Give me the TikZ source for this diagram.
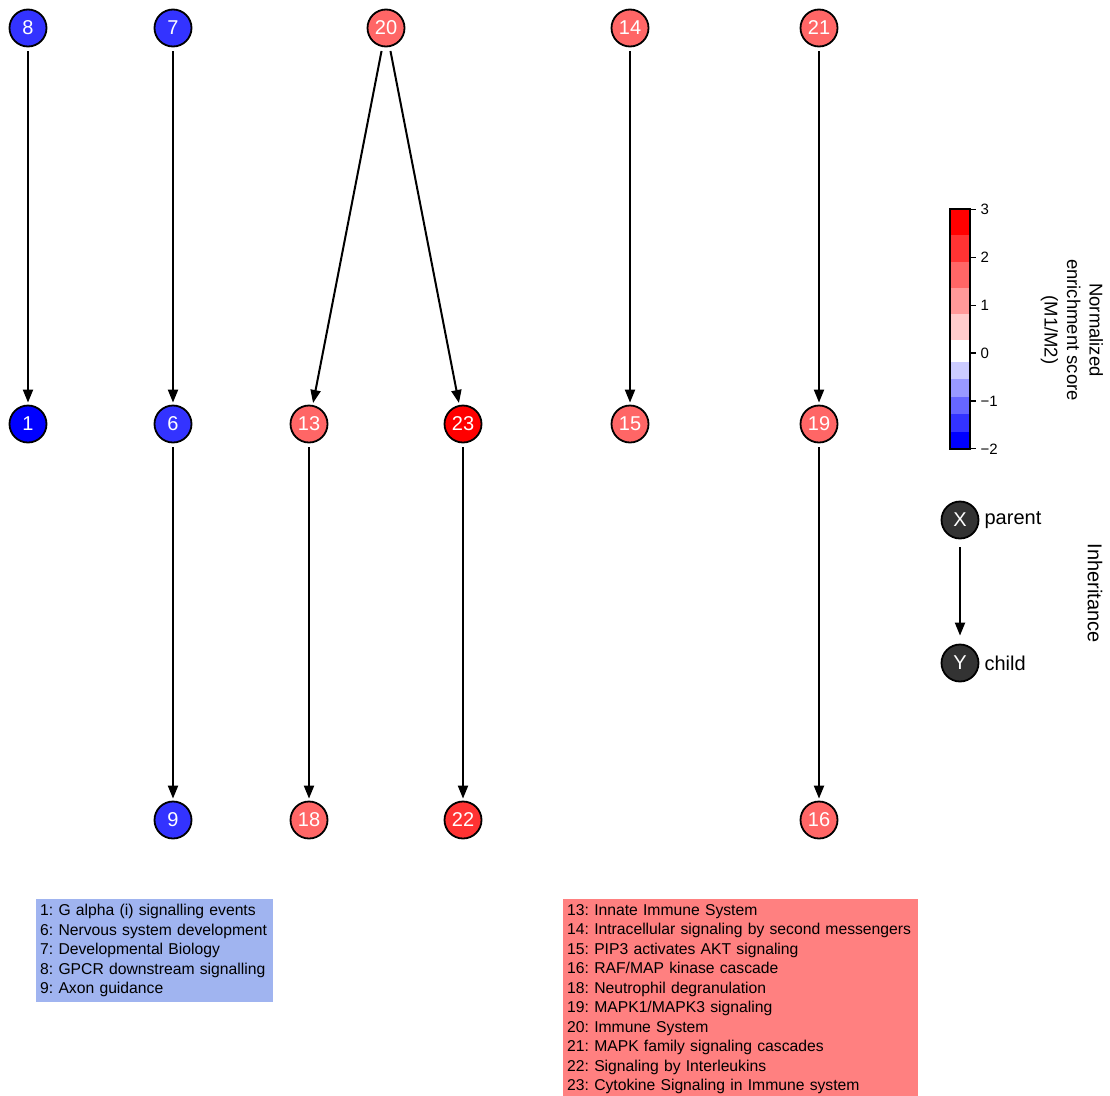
\documentclass[tikz,border=0pt]{standalone}
\usepackage{fontspec}
\setmainfont{Liberation Sans}
\usetikzlibrary{arrows.meta}
\frenchspacing

\begin{document}
\begin{tikzpicture}
[x=1pt,y=-1pt, % pixel coordinates
pw/.style={circle,draw,line width=1.8pt,minimum size=37pt,inner sep=0pt,text=white,font=\fontsize{20}{20}\selectfont}, % node
inh/.style={line width=2pt,-{Triangle[length=13pt,width=10pt]},shorten <=4pt,shorten >=2pt}, % arrow
listbox/.style={anchor=north west,align=left,inner xsep=4pt,inner ysep=5pt,font=\fontsize{15.7}{19.5}\selectfont} % list
]
\useasboundingbox (0,0) rectangle (1110,1095);
% top row
\node[pw,fill=blue!80!white] (n8) at (28,28) {8};
\node[pw,fill=blue!80!white] (n7) at (173,28) {7};
\node[pw,fill=red!60!white] (n20) at (386,28) {20};
\node[pw,fill=red!60!white] (n14) at (630,28) {14};
\node[pw,fill=red!60!white] (n21) at (819,28) {21};
% middle row
\node[pw,fill=blue] (n1) at (28,424) {1};
\node[pw,fill=blue!80!white] (n6) at (173,424) {6};
\node[pw,fill=red!60!white] (n13) at (309,424) {13};
\node[pw,fill=red] (n23) at (463,424) {23};
\node[pw,fill=red!60!white] (n15) at (630,424) {15};
\node[pw,fill=red!60!white] (n19) at (819,424) {19};
% bottom row
\node[pw,fill=blue!80!white] (n9) at (173,820) {9};
\node[pw,fill=red!60!white] (n18) at (309,820) {18};
\node[pw,fill=red!80!white] (n22) at (463,820) {22};
\node[pw,fill=red!60!white] (n16) at (819,820) {16};
% edges
\foreach \a/\b in {n8/n1,n7/n6,n20/n13,n20/n23,n14/n15,n21/n19,n6/n9,n13/n18,n23/n22,n19/n16}
  \draw[inh] (\a) -- (\b);
% colour bar
\foreach \p/\a/\b in {100/449/431.6,80/431.6/414.2,60/414.2/396.7,40/396.7/379.3,20/379.3/361.9}
  \fill[blue!\p!white] (950,\a) rectangle (970,\b);
\foreach \p/\a/\b in {20/339.9/313.8,40/313.8/287.7,60/287.7/261.5,80/261.5/235.4,100/235.4/209.3}
  \fill[red!\p!white] (950,\a) rectangle (970,\b);
\draw[line width=1.8pt] (950,209.3) rectangle (970,449);
\foreach \v/\t in {3/3,2/2,1/1,0/0,-1/−1,-2/−2}
  \draw[line width=1.2pt] (970,353-47.9*\v) -- (976,353-47.9*\v) node[right,inner sep=4pt,font=\fontsize{15}{15}\selectfont] {\t};
\node[rotate=-90,align=center,font=\fontsize{18.5}{22.5}\selectfont] (bartitle) at (1072,330) {Normalized\\enrichment score\\(M1/M2)};
% legend
\node[pw,fill=black!80] (lx) at (960,520) {X};
\node[pw,fill=black!80] (ly) at (960,663) {Y};
\node[right,font=\fontsize{20}{20}\selectfont,inner sep=5pt] (lxt) at (lx.east) {parent};
\node[right,font=\fontsize{20}{20}\selectfont,inner sep=5pt] (lyt) at (ly.east) {child};
\draw[inh,shorten <=8pt,shorten >=8pt] (lx) -- (ly);
\node[rotate=-90,font=\fontsize{20}{20}\selectfont] (inhtitle) at (1095,593) {Inheritance};
% lists
\node[listbox,fill={rgb,255:red,160;green,180;blue,240},text width=229pt] (bluelist) at (36,899)
{1: G alpha (i) signalling events\\6: Nervous system development\\7: Developmental Biology\\8: GPCR downstream signalling\\9: Axon guidance};
\node[listbox,fill={rgb,255:red,255;green,128;blue,128},text width=347pt] (redlist) at (563,899)
{13: Innate Immune System\\14: Intracellular signaling by second messengers\\15: PIP3 activates AKT signaling\\16: RAF/MAP kinase cascade\\18: Neutrophil degranulation\\19: MAPK1/MAPK3 signaling\\20: Immune System\\21: MAPK family signaling cascades\\22: Signaling by Interleukins\\23: Cytokine Signaling in Immune system};
\end{tikzpicture}
\end{document}
